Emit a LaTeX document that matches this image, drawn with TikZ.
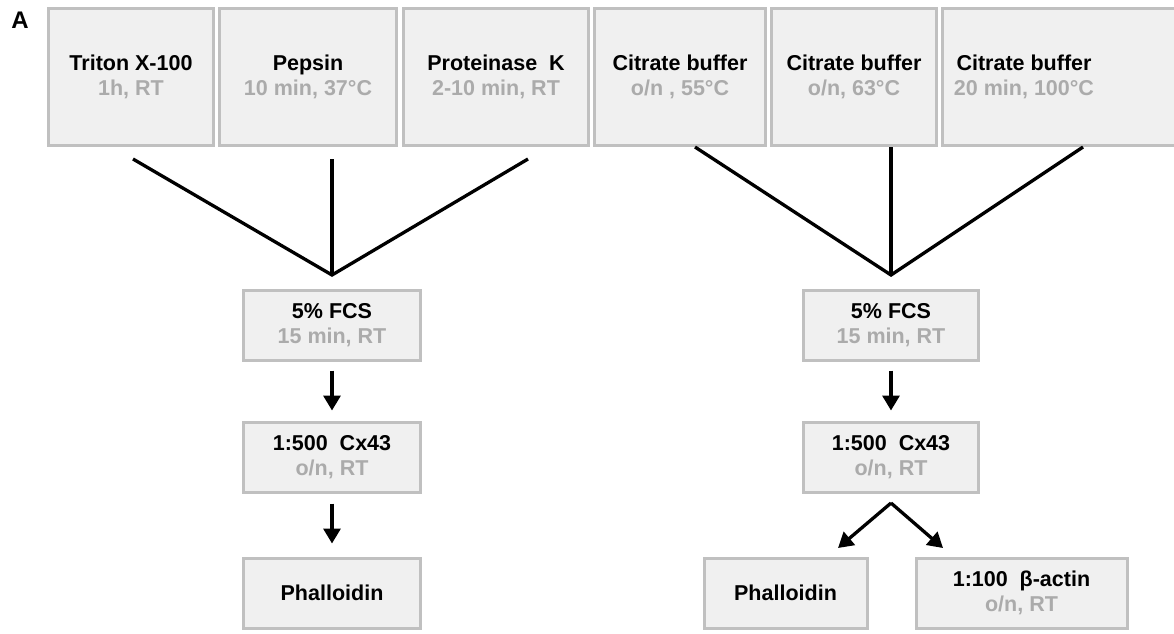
\documentclass[tikz,border=0pt]{standalone}
\usepackage{fontspec}
\setmainfont{Liberation Sans}
\usetikzlibrary{arrows.meta}
\definecolor{boxfill}{HTML}{F0F0F0}
\definecolor{boxline}{HTML}{C0C0C0}
\definecolor{subtext}{HTML}{ABABAB}
\newcommand{\subl}[1]{\\{\color{subtext}#1}}
\begin{document}
\begin{tikzpicture}[x=1pt,y=-1pt,
  txt/.style={align=center, inner sep=0pt, font=\fontsize{21.5}{25.5}\selectfont\bfseries},
  stepbox/.style={txt, draw=boxline, fill=boxfill, line width=3pt},
  topbox/.style={stepbox, minimum height=137pt},
  midbox/.style={stepbox, minimum height=70pt},
  conn/.style={line width=3.3pt, black},
  arr/.style={line width=3.3pt, black, -{Triangle[length=15pt,width=17pt]}}]
\useasboundingbox (0,0) rectangle (1174,633);

\node[font=\fontsize{24}{24}\selectfont\bfseries] (lab) at (20,20) {A};

% top row
\node[topbox, minimum width=165pt] (t1) at (131,77) {Triton X-100\subl{1h, RT}};
\node[topbox, minimum width=177pt] (t2) at (308,77) {Pepsin\subl{10 min, 37°C}};
\node[topbox, minimum width=185pt] (t3) at (496,77) {Proteinase\ \ K\subl{2-10 min, RT}};
\node[topbox, minimum width=171pt] (t4) at (680,77) {Citrate buffer\subl{o/n , 55°C}};
\node[topbox, minimum width=165pt] (t5) at (854,77) {Citrate buffer\subl{o/n, 63°C}};
\node[topbox, minimum width=240pt] (t6) at (1062,77) {};
\node[txt] (t6l) at (1024,77) {Citrate buffer\subl{20 min, 100°C}};

% converging lines
\coordinate (s1) at (133,159);
\coordinate (s2) at (332,159);
\coordinate (s3) at (528,159);
\coordinate (a1) at (332,275);
\coordinate (s4) at (695,147);
\coordinate (s5) at (891,147);
\coordinate (s6) at (1083,147);
\coordinate (a2) at (891,275);
\draw[conn] (s1) -- (a1) -- (s3);
\draw[conn] (s2) -- (a1);
\draw[conn] (s4) -- (a2) -- (s6);
\draw[conn] (s5) -- (a2);

% left column
\node[midbox, minimum width=177pt] (f1) at (332,325) {5\% FCS\subl{15 min, RT}};
\node[midbox, minimum width=177pt] (c1) at (332,457) {1:500\ \ Cx43\subl{o/n, RT}};
\node[midbox, minimum width=177pt] (p1) at (332,593) {Phalloidin};
\draw[arr, shorten <=9pt, shorten >=10pt] (f1) -- (c1);
\draw[arr, shorten <=10pt, shorten >=13pt] (c1) -- (p1);

% right column
\node[midbox, minimum width=175pt] (f2) at (891,325) {5\% FCS\subl{15 min, RT}};
\node[midbox, minimum width=175pt] (c2) at (891,457) {1:500\ \ Cx43\subl{o/n, RT}};
\node[midbox, minimum width=163pt] (p2) at (785.5,593) {Phalloidin};
\node[midbox, minimum width=211pt] (b2) at (1021.5,593) {1:100\ \ β-actin\subl{o/n, RT}};
\draw[arr, shorten <=9pt, shorten >=10pt] (f2) -- (c2);
\coordinate (br) at (891,503);
\coordinate (bl) at (838,548);
\coordinate (bm) at (943,548);
\draw[arr] (br) -- (bl);
\draw[arr] (br) -- (bm);
\end{tikzpicture}
\end{document}
